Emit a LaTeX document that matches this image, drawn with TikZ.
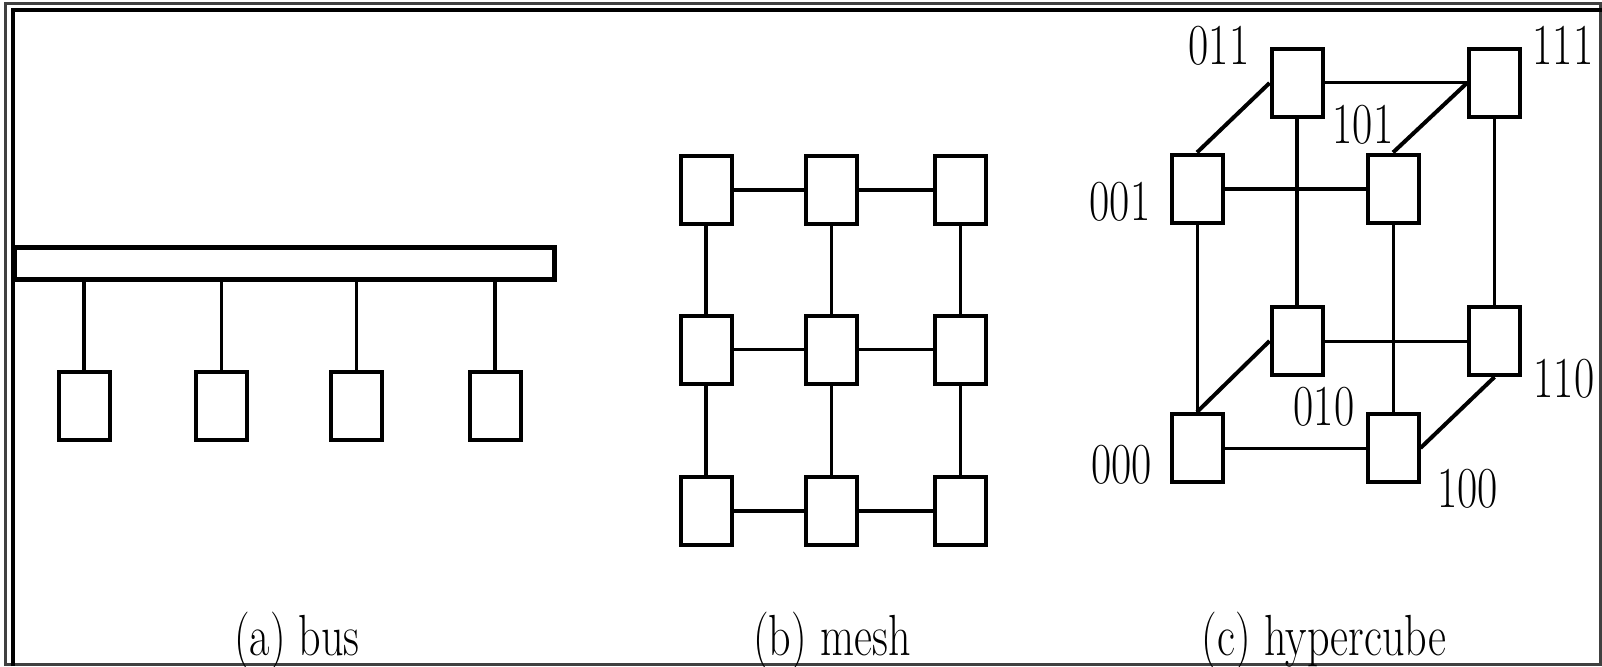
\documentclass[tikz,border=0pt]{standalone}
\usepackage{fontspec}
\begin{document}
\begin{tikzpicture}[x=1pt,y=-1pt,
proc/.style={draw, line width=4pt, fill=white, inner sep=0pt, minimum width=51pt, minimum height=68pt},
link/.style={line width=3pt},
heavy link/.style={line width=4pt},
tag/.style={anchor=base, inner sep=0pt, xscale=0.76, font=\fontsize{58}{60}\selectfont}]
\useasboundingbox (0,0) rectangle (1602,666);
\draw[line width=3pt, black!75] (5.5,3.5) rectangle (1600.5,664.5);
\draw[line width=4pt] (12.5,666) -- (12.5,10.5) -- (1602,10.5);

\node[draw, line width=5pt, fill=white, inner sep=0pt, minimum width=540pt, minimum height=32pt] (bar) at (284.5,263.5){};
\node[proc] (b1) at (84,405.5){};
\node[proc] (b2) at (221.5,405.5){};
\node[proc] (b3) at (356,405.5){};
\node[proc] (b4) at (495,405.5){};
\draw[heavy link](b1.north) -- (b1.north |- bar.south);
\draw[link](b2.north) -- (b2.north |- bar.south);
\draw[link](b3.north) -- (b3.north |- bar.south);
\draw[heavy link](b4.north) -- (b4.north |- bar.south);

\node[proc] (m11) at (706,189.5){};
\node[proc] (m12) at (831.5,189.5){};
\node[proc] (m13) at (960.5,189.5){};
\node[proc] (m21) at (706,349.5){};
\node[proc] (m22) at (831.5,349.5){};
\node[proc] (m23) at (960.5,349.5){};
\node[proc] (m31) at (706,510.5){};
\node[proc] (m32) at (831.5,510.5){};
\node[proc] (m33) at (960.5,510.5){};
\draw[heavy link](m11) -- (m12);
\draw[heavy link](m12) -- (m13);
\draw[link](m21) -- (m22);
\draw[link](m22) -- (m23);
\draw[heavy link](m31) -- (m32);
\draw[heavy link](m32) -- (m33);
\draw[heavy link](m11) -- (m21);
\draw[heavy link](m21) -- (m31);
\draw[link](m12) -- (m22);
\draw[link](m22) -- (m32);
\draw[link](m13) -- (m23);
\draw[link](m23) -- (m33);

\node[proc] (h011) at (1297,83){};
\node[proc] (h111) at (1494.5,83){};
\node[proc] (h001) at (1197,188.5){};
\node[proc] (h101) at (1393,188.5){};
\node[proc] (h010) at (1297,341){};
\node[proc] (h110) at (1494.5,341){};
\node[proc] (h000) at (1197,448){};
\node[proc] (h100) at (1393,448){};
\draw[link](h011) -- (h111);
\draw[heavy link](h001) -- (h101);
\draw[link](h010) -- (h110);
\draw[link](h000) -- (h100);
\draw[link](h001) -- (h000);
\draw[heavy link](h011) -- (h010);
\draw[link](h101) -- (h100);
\draw[link](h111) -- (h110);
\draw[heavy link](h001.north) -- (h011.west);
\draw[heavy link](h101.north) -- (h111.west);
\draw[heavy link](h000.north) -- (h010.west);
\draw[heavy link](h100.east) -- (h110.south);

\node[tag] (l011) at (1219,65){011};
\node[tag] (l111) at (1563,65){111};
\node[tag] (l101) at (1363,143){101};
\node[tag] (l001) at (1120,220){001};
\node[tag] (l010) at (1324,425){010};
\node[tag] (l110) at (1564,397){110};
\node[tag] (l000) at (1121.5,483){000};
\node[tag] (l100) at (1467.5,507){100};

\node[tag] (cbus) at (297,655){(a) bus};
\node[tag] (cmesh) at (832,655){(b) mesh};
\node[tag] (ccube) at (1324,655){(c) hypercube};

\end{tikzpicture}
\end{document}
